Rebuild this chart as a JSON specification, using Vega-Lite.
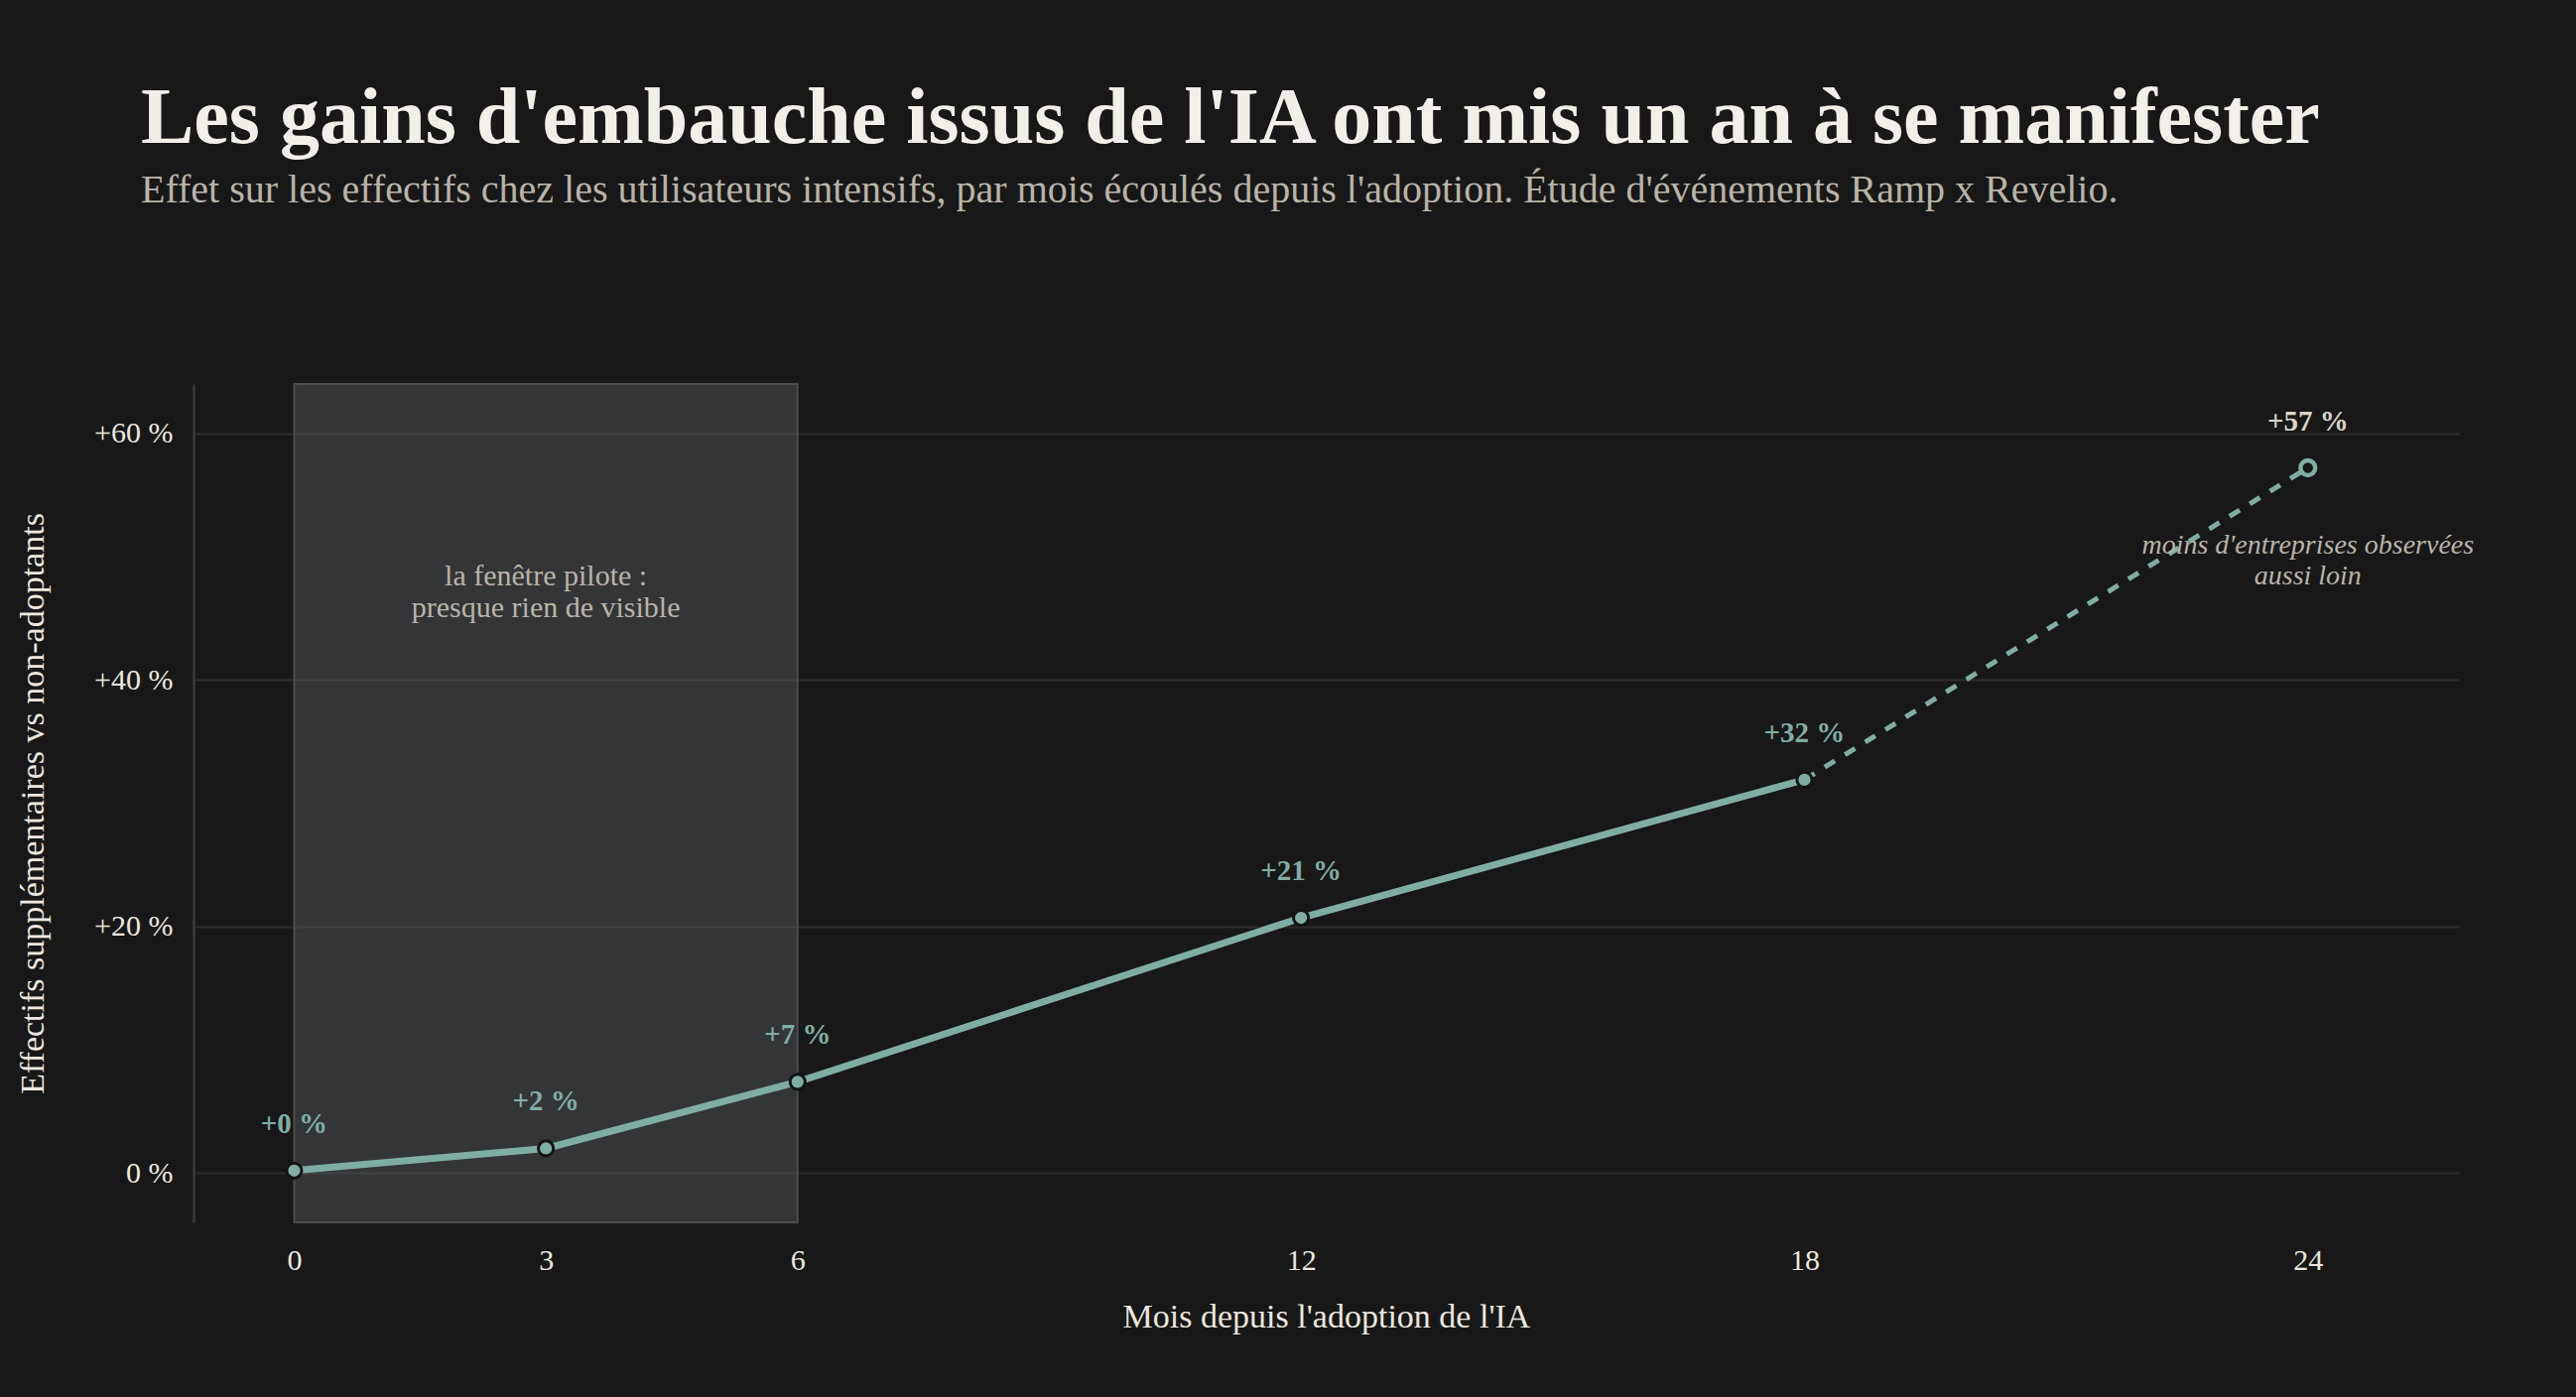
{
  "$schema": "https://vega.github.io/schema/vega-lite/v6.json",
  "width": 2283,
  "height": 845,
  "autosize": {"type": "none"},
  "padding": {"left": 195, "top": 387, "right": 118, "bottom": 176},
  "background": "#181818",
  "title": {
    "text": "Les gains d'embauche issus de l'IA ont mis un an à se manifester",
    "subtitle": "Effet sur les effectifs chez les utilisateurs intensifs, par mois écoulés depuis l'adoption. Étude d'événements Ramp x Revelio.",
    "anchor": "start",
    "frame": "group",
    "dx": -53,
    "offset": 173,
    "font": "Liberation Serif",
    "fontSize": 80,
    "fontWeight": "bold",
    "color": "#f2efe8",
    "subtitleFont": "Liberation Serif",
    "subtitleFontSize": 40,
    "subtitleColor": "#b9b3a7",
    "subtitlePadding": 11
  },
  "datasets": {
    "series": [
      {"mois": 0, "effet": 0.2, "label": "+0 %"},
      {"mois": 3, "effet": 2.0, "label": "+2 %"},
      {"mois": 6, "effet": 7.4, "label": "+7 %"},
      {"mois": 12, "effet": 20.7, "label": "+21 %"},
      {"mois": 18, "effet": 31.9, "label": "+32 %"},
      {"mois": 24, "effet": 57.2, "label": "+57 %"}
    ],
    "window": [{"debut": 0, "fin": 6}],
    "notes": [
      {"mois": 3, "effet": 48.4, "texte": ["la fenêtre pilote :", "presque rien de visible"], "style": "pilot"},
      {"mois": 24, "effet": 50.9, "texte": ["moins d'entreprises observées", "aussi loin"], "style": "tail"}
    ]
  },
  "layer": [
    {
      "data": {"name": "window"},
      "mark": {"type": "rect", "fill": "#5c5f63", "fillOpacity": 0.42, "stroke": "#4b4c4f", "strokeWidth": 2},
      "encoding": {
        "x": {"field": "debut", "type": "quantitative", "scale": {"domain": [-1.2, 25.8], "nice": false, "zero": false},
          "axis": {"values": [0, 3, 6, 12, 18, 24], "format": "d", "title": "Mois depuis l'adoption de l'IA", "grid": false, "domain": false, "ticks": false, "tickSize": 0, "labelPadding": 23, "titlePadding": 25}},
        "x2": {"field": "fin"},
        "y": {"datum": -4, "type": "quantitative", "scale": {"domain": [-4, 64], "nice": false, "zero": false},
          "axis": {"values": [0, 20, 40, 60], "title": "Effectifs supplémentaires vs non-adoptants",
            "labelExpr": "datum.value > 0 ? '+' + datum.value + ' %' : datum.value + ' %'",
            "grid": true, "domain": true, "ticks": false, "tickSize": 0, "labelPadding": 21, "titlePadding": 44}},
        "y2": {"datum": 64}
      }
    },
    {
      "data": {"name": "series"},
      "transform": [{"filter": "datum.mois <= 18"}],
      "mark": {"type": "line", "color": "#80ada3", "strokeWidth": 7, "strokeCap": "round"},
      "encoding": {
        "x": {"field": "mois", "type": "quantitative"},
        "y": {"field": "effet", "type": "quantitative"}
      }
    },
    {
      "data": {"name": "series"},
      "transform": [{"filter": "datum.mois >= 18"}],
      "mark": {"type": "line", "color": "#80ada3", "strokeWidth": 5, "strokeDash": [12, 12]},
      "encoding": {
        "x": {"field": "mois", "type": "quantitative"},
        "y": {"field": "effet", "type": "quantitative"}
      }
    },
    {
      "data": {"name": "series"},
      "transform": [{"filter": "datum.mois <= 18"}],
      "mark": {"type": "point", "filled": true, "fill": "#80ada3", "stroke": "#141414", "strokeWidth": 3, "size": 230, "opacity": 1},
      "encoding": {
        "x": {"field": "mois", "type": "quantitative"},
        "y": {"field": "effet", "type": "quantitative"}
      }
    },
    {
      "data": {"name": "series"},
      "transform": [{"filter": "datum.mois == 24"}],
      "mark": {"type": "point", "filled": false, "fill": "#181818", "fillOpacity": 1, "stroke": "#80ada3", "strokeWidth": 4.5, "size": 220, "opacity": 1},
      "encoding": {
        "x": {"field": "mois", "type": "quantitative"},
        "y": {"field": "effet", "type": "quantitative"}
      }
    },
    {
      "data": {"name": "series"},
      "transform": [{"filter": "datum.mois <= 18"}],
      "mark": {"type": "text", "font": "Liberation Serif", "fontSize": 29, "fontWeight": "bold", "color": "#80ada3", "dy": -47, "baseline": "middle", "align": "center"},
      "encoding": {
        "x": {"field": "mois", "type": "quantitative"},
        "y": {"field": "effet", "type": "quantitative"},
        "text": {"field": "label"}
      }
    },
    {
      "data": {"name": "series"},
      "transform": [{"filter": "datum.mois == 24"}],
      "mark": {"type": "text", "font": "Liberation Serif", "fontSize": 29, "fontWeight": "bold", "color": "#d8d3c7", "dy": -47, "baseline": "middle", "align": "center"},
      "encoding": {
        "x": {"field": "mois", "type": "quantitative"},
        "y": {"field": "effet", "type": "quantitative"},
        "text": {"field": "label"}
      }
    },
    {
      "data": {"name": "notes"},
      "transform": [{"filter": "datum.style == 'pilot'"}],
      "mark": {"type": "text", "font": "Liberation Serif", "fontSize": 30, "color": "#b9b3a7", "lineHeight": 32, "baseline": "middle", "align": "center"},
      "encoding": {
        "x": {"field": "mois", "type": "quantitative"},
        "y": {"field": "effet", "type": "quantitative"},
        "text": {"field": "texte"}
      }
    },
    {
      "data": {"name": "notes"},
      "transform": [{"filter": "datum.style == 'tail'"}],
      "mark": {"type": "text", "font": "Liberation Serif", "fontSize": 28, "fontStyle": "italic", "color": "#b9b3a7", "lineHeight": 31, "baseline": "middle", "align": "center"},
      "encoding": {
        "x": {"field": "mois", "type": "quantitative"},
        "y": {"field": "effet", "type": "quantitative"},
        "text": {"field": "texte"}
      }
    }
  ],
  "config": {
    "view": {"stroke": null},
    "axis": {
      "labelFont": "Liberation Serif",
      "labelFontSize": 30,
      "labelColor": "#ebe7df",
      "titleFont": "Liberation Serif",
      "titleFontSize": 34,
      "titleFontWeight": "normal",
      "titleColor": "#ebe7df",
      "gridColor": "#2f2e2b",
      "gridWidth": 2,
      "domainColor": "#3a3a3a",
      "domainWidth": 2.5
    }
  }
}
